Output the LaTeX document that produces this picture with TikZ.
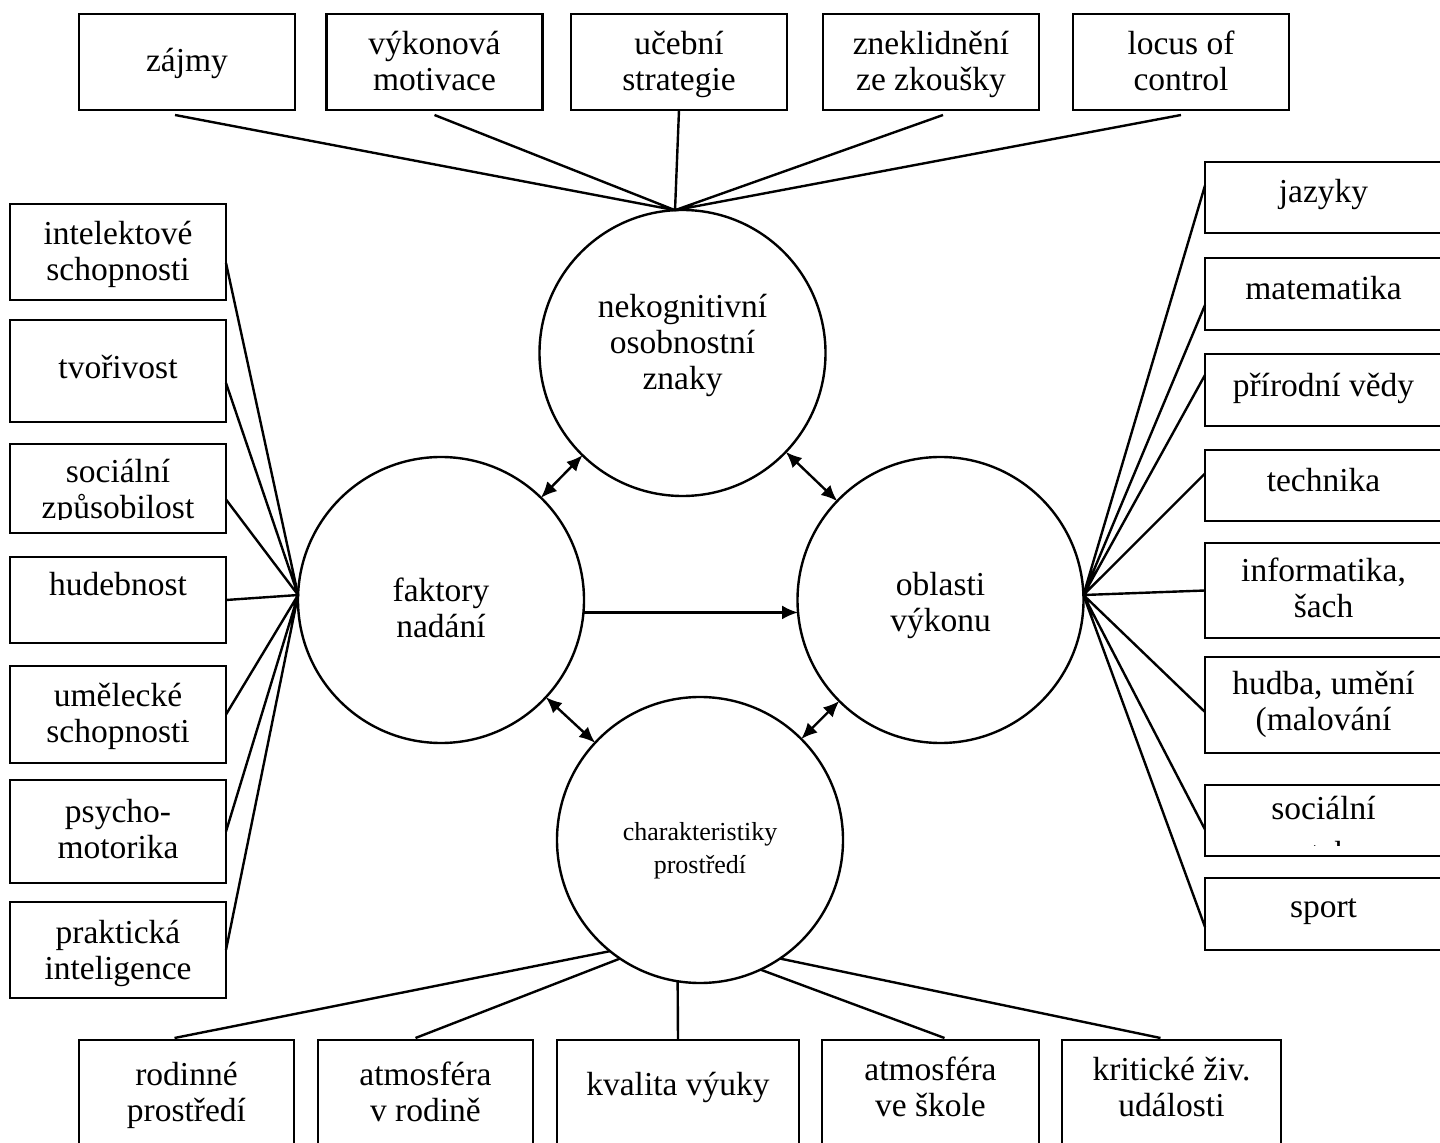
\documentclass[tikz,border=0pt]{standalone}
\usepackage{fontspec}
\setmainfont{Liberation Serif}
\usetikzlibrary{positioning, arrows.meta}
\tikzset{>={Latex[length=8pt,width=7pt]},
node distance=12pt,
box/.style={draw, inner sep=0pt, outer sep=0pt, align=center, font=\fontsize{16.75}{18}\selectfont},
kruh/.style={draw, circle, minimum size=143pt, inner sep=0pt, outer sep=0pt, align=center, font=\fontsize{16.75}{18}\selectfont},
horni/.style={box, minimum width=108pt, minimum height=48pt},
leva/.style={box, minimum width=108pt},
prava/.style={box, minimum width=118.5pt},
dolni/.style={box, minimum width=108.5pt, minimum height=70pt},
txt/.style 2 args={text height=#1pt, text depth=#2pt}}

\begin{document}
\begin{tikzpicture}[x=0.5pt, y=-0.5pt, line width=1.2pt]
\useasboundingbox (0,0) rectangle (1440,1143);
\clip (0,0) rectangle (1440,1143);

% kruhy
\node[kruh, txt={37}{0}] (nek) at (682.5,353) {nekognitivní\\osobnostní\\znaky};
\node[kruh, txt={38}{0}] (fak) at (441,600) {faktory\\nadání};
\node[kruh, txt={32}{0}] (obl) at (940.5,600) {oblasti\\výkonu};
\node[kruh, txt={33}{0}, font=\fontsize{13}{16.5}\selectfont] (cha) at (700,840) {charakteristiky\\prostředí};

% horni rada
\node[horni, txt={10}{0}] (zaj) at (187,62) {zájmy};
\node[horni, txt={29}{0}, right=15.75pt of zaj] (vyk) {výkonová\\motivace};
\node[horni, txt={29}{0}, right=14.25pt of vyk] (uce) {učební\\strategie};
\node[horni, txt={29}{0}, right=18pt of uce] (zne) {zneklidnění\\ze zkoušky};
\node[horni, txt={29}{0}, right=17pt of zne] (loc) {locus of\\control};

% leva strana
\node[leva, minimum height=48pt, txt={29}{0}] (int) at (118,252) {intelektové\\schopnosti};
\node[leva, minimum height=51pt, txt={8}{0}, below=10pt of int] (tvo) {tvořivost};
\node[leva, minimum height=44.5pt, txt={30.5}{0}, below=11pt of tvo] (soc) {sociální\\způsobilost};
\node[leva, minimum height=43pt, txt={0}{4}, below=12pt of soc] (hud) {hudebnost};
\node[leva, minimum height=48.5pt, txt={28.5}{0}, below=11.5pt of hud] (ume) {umělecké\\schopnosti};
\node[leva, minimum height=51.5pt, txt={26.5}{0}, below=8.5pt of ume] (psy) {psycho-\\motorika};
\node[leva, minimum height=48pt, txt={29}{0}, below=9.5pt of psy] (pra) {praktická\\inteligence};

% prava strana
\node[prava, minimum height=35.5pt, txt={5.5}{0}] (jaz) at (1323.5,197.5) {jazyky};
\node[prava, minimum height=36pt, txt={6}{0}, below=12.5pt of jaz] (mat) {matematika};
\node[prava, minimum height=36pt, txt={7}{0}, below=12pt of mat] (pri) {přírodní vědy};
\node[prava, minimum height=35.5pt, txt={6}{0}, below=12pt of pri] (tec) {technika};
\node[prava, minimum height=47.5pt, txt={27.5}{0}, below=11pt of tec] (inf) {informatika,\\šach};
\node[prava, minimum height=48pt, txt={26}{0}, below=9.5pt of inf] (umn) {hudba, umění\\(malování};
\node[prava, minimum height=35.5pt, txt={35.5}{0}, below=16pt of umn] (sov) {sociální\\\raisebox{-4.5pt}{vztahy}};
\node[prava, minimum height=36pt, txt={3}{0}, below=11pt of sov] (spo) {sport};

% dolni rada
\node[dolni, minimum width=107.5pt, txt={11}{0}] (rod) at (186.5,1110) {rodinné\\prostředí};
\node[dolni, minimum width=107.5pt, txt={11}{0}, right=12pt of rod] (atr) {atmosféra\\v rodině};
\node[dolni, minimum width=121pt, txt={0}{15}, right=12pt of atr] (kva) {kvalita výuky};
\node[dolni, txt={6}{0}, right=11.5pt of kva] (ats) {atmosféra\\ve škole};
\node[dolni, minimum width=109.5pt, txt={6}{0}, right=11.5pt of ats] (kri) {kritické živ.\\události};

% useknuty text
\fill[white] (12,520) rectangle (224,531.5);
\fill[white] (1207,846) rectangle (1440,876);
\draw (sov.south west) -- (sov.south east);

\draw
([shift={(-12,5)}]zaj.south) -- (nek.93)
([shift={(0,5)}]vyk.south) -- (nek.93)
(uce.south) -- (nek.93)
([shift={(12,5)}]zne.south) -- (nek.93)
([shift={(0,5)}]loc.south) -- (nek.93)
([shift={(0,11)}]int.east) -- (fak.178)
([shift={(0,12)}]tvo.east) -- (fak.178)
([shift={(0,11)}]soc.east) -- (fak.178)
(hud.east) -- (fak.178)
(ume.east) -- (fak.178)
(psy.east) -- (fak.178)
(pra.east) -- (fak.178)
(obl.2) -- ([shift={(0,-12)}]jaz.west)
(obl.2) -- ([shift={(0,11)}]mat.west)
(obl.2) -- ([shift={(0,-15)}]pri.west)
(obl.2) -- ([shift={(0,-12)}]tec.west)
(obl.2) -- (inf.west)
(obl.2) -- ([shift={(0,7)}]umn.west)
(obl.2) -- ([shift={(0,9)}]sov.west)
(obl.2) -- ([shift={(0,13)}]spo.west)
(cha.231) -- ([shift={(-12,-2)}]rod.north)
(cha.236) -- ([shift={(-10,-2)}]atr.north)
(cha.261) -- (kva.north)
(cha.295) -- ([shift={(14,-2)}]ats.north)
(cha.304) -- ([shift={(-11,-2)}]kri.north);

\draw[<->] (fak) -- (nek);
\draw[<->] (nek) -- (obl);
\draw[<->] (fak) -- (cha);
\draw[<->] (cha) -- (obl);
\draw[->] (fak.-5) -- (obl.185);
\end{tikzpicture}
\end{document}
